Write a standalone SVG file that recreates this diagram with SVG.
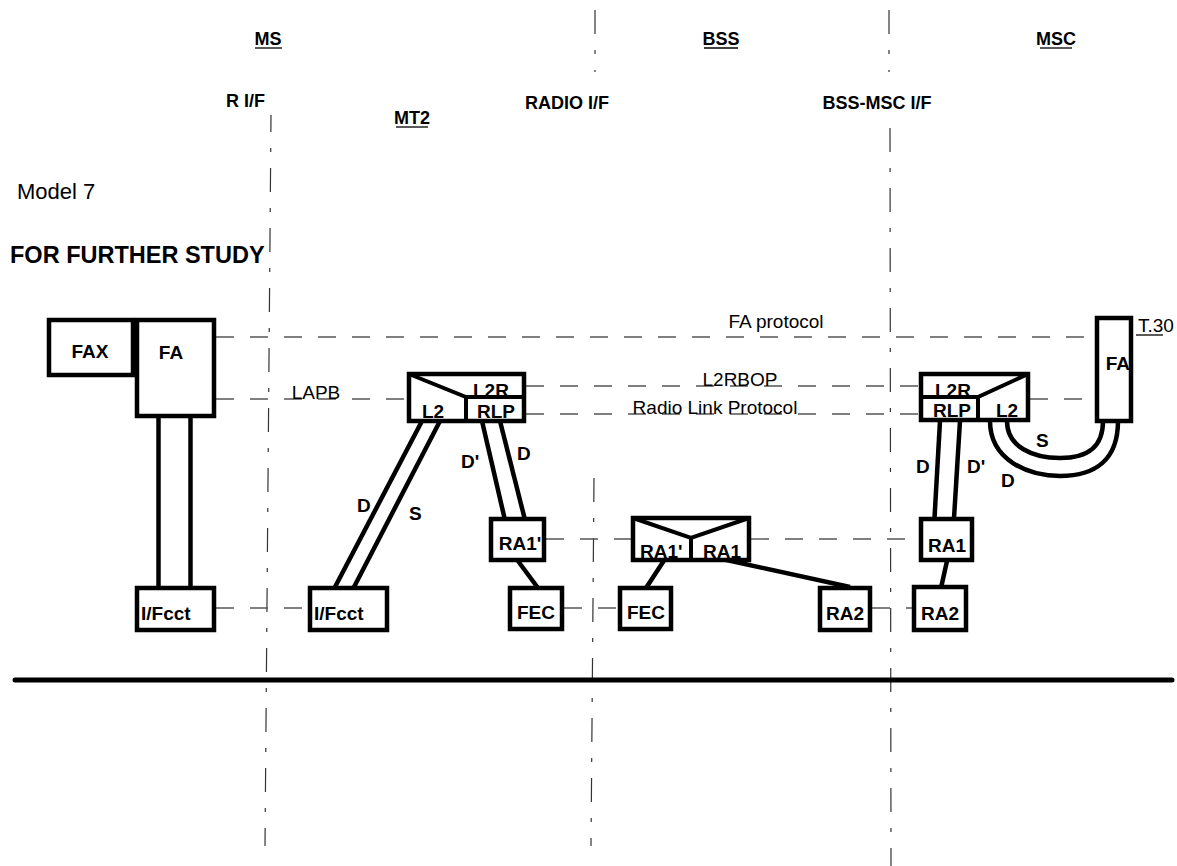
<svg xmlns="http://www.w3.org/2000/svg" width="1177" height="866" viewBox="0 0 1177 866">
<style>
.bg{fill:#fff}
.box{fill:#fff;stroke:#000;stroke-width:4.5}
.div{fill:none;stroke:#000;stroke-width:4}
.bar{fill:none;stroke:#000;stroke-width:4.5}
.dash{fill:none;stroke:#555;stroke-width:1.4;stroke-dasharray:18 16}
.dd{fill:none;stroke:#333;stroke-width:1.2;stroke-dasharray:24 16 4 16}
.h{font-family:"Liberation Sans",Arial,sans-serif;font-weight:bold;font-size:18px;fill:#000}
.b{font-family:"Liberation Sans",Arial,sans-serif;font-weight:bold;font-size:19px;fill:#000}
.r{font-family:"Liberation Sans",Arial,sans-serif;font-size:19px;fill:#000}
.u{stroke:#000;stroke-width:1.3}
</style>
<rect class="bg" x="0" y="0" width="1177" height="866"/>

<g id="interfaces">
<line class="dd" x1="271" y1="115" x2="265" y2="846" stroke-dashoffset="7"/>
<line class="dd" x1="595" y1="10" x2="595" y2="72"/>
<line class="dd" x1="594" y1="478" x2="591" y2="846"/>
<line class="dd" x1="889" y1="10" x2="889" y2="72"/>
<line class="dd" x1="890" y1="128" x2="891" y2="866"/>
<line x1="15" y1="680" x2="1172" y2="680" stroke="#000" stroke-width="5" stroke-linecap="round"/>
</g>

<g id="headings">
<text class="h" x="268" y="45" text-anchor="middle">MS</text>
<line class="u" x1="255" y1="48" x2="282" y2="48"/>
<text class="h" x="721" y="45" text-anchor="middle">BSS</text>
<line class="u" x1="704" y1="48" x2="738" y2="48"/>
<text class="h" x="1056" y="45" text-anchor="middle">MSC</text>
<line class="u" x1="1040" y1="48" x2="1072" y2="48"/>
<text class="h" x="265" y="107" text-anchor="end">R I/F</text>
<text class="h" x="412" y="124" text-anchor="middle">MT2</text>
<line class="u" x1="396" y1="127" x2="428" y2="127"/>
<text class="h" x="567" y="109" text-anchor="middle">RADIO I/F</text>
<text class="h" x="877" y="109" text-anchor="middle">BSS-MSC I/F</text>
<text x="17" y="199" font-family="Liberation Sans, Arial, sans-serif" font-size="22">Model 7</text>
<text x="10" y="263" font-family="Liberation Sans, Arial, sans-serif" font-size="23.5" font-weight="bold">FOR FURTHER STUDY</text>
</g>

<g id="connectors">
<line class="dash" x1="216" y1="337" x2="1097" y2="337"/>
<line class="u" x1="1136" y1="335" x2="1163" y2="335"/>
<line class="dash" x1="216" y1="399" x2="407" y2="399"/>
<line class="dash" x1="526" y1="386" x2="919" y2="386"/>
<line class="dash" x1="526" y1="414" x2="919" y2="414"/>
<line class="dash" x1="1030" y1="399" x2="1097" y2="399"/>
<line class="dash" x1="546" y1="539" x2="631" y2="539"/>
<line class="dash" x1="751" y1="539" x2="919" y2="539"/>
<line class="dash" x1="216" y1="608" x2="308" y2="608"/>
<line class="dash" x1="564" y1="608" x2="618" y2="608"/>
<line class="dash" x1="872" y1="608" x2="912" y2="608"/>
<text class="r" x="776" y="328" text-anchor="middle">FA protocol</text>
<text class="r" x="316" y="399" text-anchor="middle">LAPB</text>
<text class="r" x="740" y="386" text-anchor="middle">L2RBOP</text>
<text class="r" x="715" y="414" text-anchor="middle">Radio Link Protocol</text>
<text class="r" x="1138" y="332">T.30</text>

<line class="bar" x1="158.5" y1="418" x2="158.5" y2="587"/>
<line class="bar" x1="190.5" y1="418" x2="190.5" y2="587"/>
<line class="bar" x1="335" y1="587" x2="422" y2="421"/>
<line class="bar" x1="354" y1="587" x2="440" y2="421"/>
<line class="bar" x1="482" y1="421" x2="504.5" y2="518"/>
<line class="bar" x1="500" y1="421" x2="524.5" y2="518"/>
<line class="bar" x1="940" y1="421" x2="934.5" y2="518"/>
<line class="bar" x1="960" y1="421" x2="954" y2="518"/>
<line class="bar" x1="518" y1="561" x2="538" y2="588"/>
<line class="bar" x1="665" y1="559" x2="646" y2="588"/>
<line class="bar" x1="722" y1="559" x2="850" y2="587"/>
<line class="bar" x1="947" y1="561" x2="941" y2="588"/>
<path class="bar" d="M990,421 C990,460 1028,476 1060,476 C1095,476 1118,460 1118,421"/>
<path class="bar" d="M1007,421 C1007,447 1033,458 1060,458 C1088,458 1103,447 1103,421"/>
<text class="b" x="357" y="512">D</text>
<text class="b" x="409" y="520">S</text>
<text class="b" x="461" y="468">D'</text>
<text class="b" x="517" y="460">D</text>
<text class="b" x="916" y="473">D</text>
<text class="b" x="967" y="473">D'</text>
<text class="b" x="1036" y="447">S</text>
<text class="b" x="1001" y="487">D</text>
</g>

<g id="fax">
<rect class="box" x="49" y="320" width="84" height="55"/>
<text class="b" x="90" y="358" text-anchor="middle">FAX</text>
</g>
<g id="fa-ms">
<rect class="box" x="137" y="320" width="77" height="96"/>
<text class="b" x="171" y="359" text-anchor="middle">FA</text>
</g>
<g id="ifcct-ms">
<rect class="box" x="137" y="588" width="77" height="42"/>
<text class="b" x="141" y="620">I/Fcct</text>
</g>
<g id="ifcct-mt2">
<rect class="box" x="310" y="588" width="77" height="42"/>
<text class="b" x="314" y="620">I/Fcct</text>
</g>
<g id="l2r-mt2">
<rect class="box" x="409" y="374" width="115" height="47"/>
<text class="b" x="473" y="396.5">L2R</text>
<text class="b" x="422" y="418">L2</text>
<text class="b" x="477" y="418">RLP</text>
<path class="div" d="M409,374 L466,397 L524,397 M466,397 L466,421"/>
</g>
<g id="ra1p-mt2">
<rect class="box" x="491" y="519" width="53" height="41"/>
<text class="b" x="520" y="550" text-anchor="middle">RA1'</text>
</g>
<g id="fec-mt2">
<rect class="box" x="510" y="588" width="52" height="41"/>
<text class="b" x="536" y="619" text-anchor="middle">FEC</text>
</g>
<g id="ra1-bss">
<rect class="box" x="633" y="518" width="116" height="42"/>
<text class="b" x="640" y="558">RA1'</text>
<text class="b" x="703" y="558">RA1</text>
<path class="div" d="M633,518 L691,538 L749,518 M691,538 L691,560"/>
</g>
<g id="fec-bss">
<rect class="box" x="620" y="588" width="51" height="41"/>
<text class="b" x="646" y="619" text-anchor="middle">FEC</text>
</g>
<g id="ra2-bss">
<rect class="box" x="820" y="588" width="50" height="42"/>
<text class="b" x="845" y="620" text-anchor="middle">RA2</text>
</g>
<g id="l2r-msc">
<rect class="box" x="921" y="374" width="107" height="46"/>
<text class="b" x="935" y="396.5">L2R</text>
<text class="b" x="933" y="417">RLP</text>
<text class="b" x="996" y="417">L2</text>
<path class="div" d="M921,397 L978,397 L1028,374 M978,397 L978,420"/>
</g>
<g id="ra1-msc">
<rect class="box" x="921" y="519" width="51" height="41"/>
<text class="b" x="947" y="552" text-anchor="middle">RA1</text>
</g>
<g id="ra2-msc">
<rect class="box" x="914" y="587" width="52" height="43"/>
<text class="b" x="940" y="620" text-anchor="middle">RA2</text>
</g>
<g id="fa-msc">
<rect class="box" x="1097" y="318" width="34" height="103"/>
<text class="b" x="1130" y="370" text-anchor="end">FA</text>
</g>
</svg>
